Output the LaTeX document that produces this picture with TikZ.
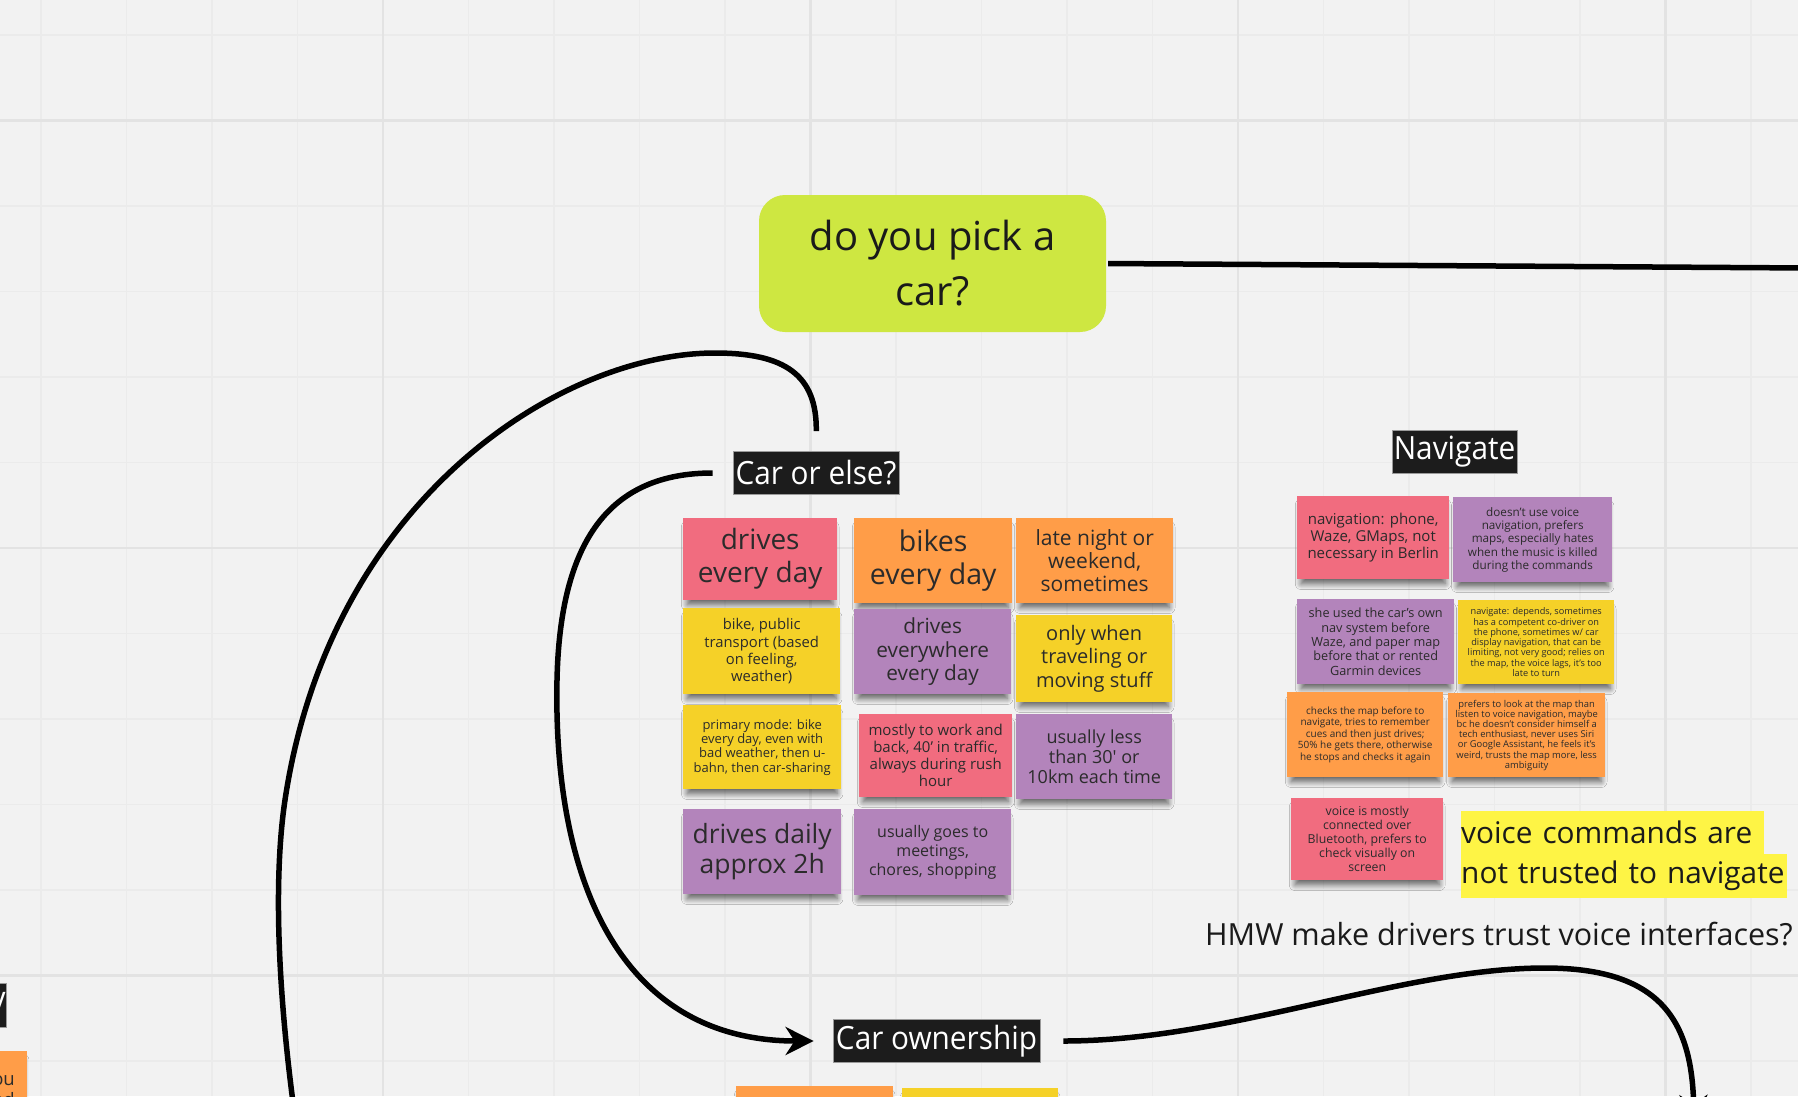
\documentclass[tikz,border=0pt]{standalone}
\usepackage{fontspec}
\setmainfont{Open Sans}[Ligatures=TeXOff]
\newfontfamily\tagfont{Open Sans}[FakeStretch=0.93]
\usepackage{xcolor}
\definecolor{canvasbg}{HTML}{F2F2F2}
\definecolor{gridminor}{HTML}{EBEBEB}
\definecolor{gridmajor}{HTML}{E3E3E3}
\definecolor{limebg}{HTML}{CEE741}
\definecolor{tagbg}{HTML}{1C1C1C}
\definecolor{tagbd}{HTML}{9A9A9A}
\definecolor{inkdark}{HTML}{1A1A1A}
\definecolor{stickyink}{HTML}{2B2B2B}
\definecolor{stpink}{HTML}{F16C7F}
\definecolor{storange}{HTML}{FF9D48}
\definecolor{styellow}{HTML}{F5D128}
\definecolor{stpurple}{HTML}{B384BB}
\definecolor{hlyellow}{HTML}{FEF445}
\usetikzlibrary{arrows.meta, positioning, shadows.blur}

\begin{document}
\begin{tikzpicture}[
        x=1pt, y=-1pt,
        font=\fontsize{16}{19}\selectfont,
        grid_minor/.style={draw=gridminor, line width=1.4pt},
        grid_major/.style={draw=gridmajor, line width=2.2pt},
        question_box/.style={
            rectangle,
            rounded corners=26pt,
            fill=limebg,
            text=inkdark,
            align=center,
            inner sep=0pt,
            minimum width=347pt,
            minimum height=137pt,
            font=\fontsize{40}{55}\selectfont
        },
        tag_node/.style={
            rectangle,
            fill=tagbg,
            draw=tagbd,
            line width=0.8pt,
            text=white,
            inner xsep=1pt,
            inner ysep=0pt,
            minimum height=43pt,
            font=\tagfont\fontsize{32}{36}\selectfont
        },
        sticky/.style={
            rectangle,
            anchor=north west,
            align=center,
            inner sep=0pt,
            text=stickyink,
            blur shadow={shadow xshift=0pt, shadow yshift=-7pt, shadow scale=0.95,
                shadow opacity=60, shadow blur radius=6pt, shadow blur steps=12}
        },
        hl_line/.style={
            rectangle,
            anchor=north west,
            fill=hlyellow,
            inner sep=0pt,
            align=left,
            text=inkdark,
            font=\fontsize{29.8}{36}\selectfont
        },
        conn/.style={draw=black, line width=5.5pt},
        arrow/.style={conn, -{Stealth[length=28pt, width=28pt, inset=9pt]}}
    ]

    \useasboundingbox (0,0) rectangle (1798,1096);
    \clip (0,0) rectangle (1798,1096);

    % Board grid
    \fill[canvasbg] (0,0) rectangle (1798,1096);
    \foreach \gi in {0,...,20} \draw[grid_minor] ({41+85.5*\gi},0) -- ({41+85.5*\gi},1096);
    \foreach \gj in {0,...,12} \draw[grid_minor] (0,{35+85.5*\gj}) -- (1798,{35+85.5*\gj});
    \foreach \gi in {0,...,3} \draw[grid_major] ({383+427.5*\gi},0) -- ({383+427.5*\gi},1096);
    \foreach \gj in {0,...,2} \draw[grid_major] (0,{120.5+427.5*\gj}) -- (1798,{120.5+427.5*\gj});

    % Question (top)
    \node[question_box] (do_car) at (932.5,263.5) {do you pick a\\car?};

    % Section labels
    \node[tag_node, minimum width=166pt] (car_else) at (816,473) {Car or else?};
    \node[tag_node, minimum width=125pt] (navigate) at (1454.5,452) {Navigate};
    \node[tag_node, minimum width=207pt] (car_own) at (936.5,1041) {Car ownership};

    % Car or else? stickies
    \node[sticky, fill=stpink, minimum width=154pt, minimum height=82pt, font=\fontsize{28}{33}\selectfont] (st_drives) at (683,518) {drives\\every day};
    \node[sticky, fill=storange, minimum width=158pt, minimum height=85pt, font=\fontsize{28.5}{33}\selectfont] (st_bikes) at (854,518) {bikes\\every day};
    \node[sticky, fill=storange, minimum width=157pt, minimum height=85pt, font=\fontsize{21}{23.3}\selectfont] (st_late) at (1016,518) {late night or\\weekend,\\sometimes};

    \node[sticky, fill=styellow, minimum width=157pt, minimum height=86pt, font=\fontsize{14.8}{17.3}\selectfont] (st_bikepub) at (683,608) {bike, public\\transport (based\\on feeling,\\weather)};
    \node[sticky, fill=stpurple, minimum width=157pt, minimum height=85pt, font=\fontsize{20.8}{23.3}\selectfont] (st_everywhere) at (854,609) {drives\\everywhere\\every day};
    \node[sticky, fill=styellow, minimum width=156pt, minimum height=87pt, font=\fontsize{20}{23.3}\selectfont] (st_travel) at (1016,615) {only when\\traveling or\\moving stuff};

    \node[sticky, fill=styellow, minimum width=158pt, minimum height=84pt, font=\fontsize{13}{14.3}\selectfont] (st_primary) at (683,705) {primary mode: bike\\every day, even with\\bad weather, then u-\\bahn, then car-sharing};
    \node[sticky, fill=stpink, minimum width=153pt, minimum height=83pt, font=\fontsize{15}{17}\selectfont] (st_work) at (859,714) {mostly to work and\\back, 40’ in traffic,\\always during rush\\hour};
    \node[sticky, fill=stpurple, minimum width=156pt, minimum height=85pt, font=\fontsize{18}{20.3}\selectfont] (st_lessthan) at (1016,714) {usually less\\than 30' or\\10km each time};

    \node[sticky, fill=stpurple, minimum width=158pt, minimum height=85pt, font=\fontsize{26.5}{30}\selectfont] (st_approx) at (683,809) {drives daily\\approx 2h};
    \node[sticky, fill=stpurple, minimum width=157pt, minimum height=86pt, font=\fontsize{16}{19.3}\selectfont] (st_meetings) at (854,809) {usually goes to\\meetings,\\chores, shopping};

    % Navigate stickies
    \node[sticky, fill=stpink, minimum width=152pt, minimum height=83pt, font=\fontsize{15}{16.7}\selectfont] (st_navphone) at (1297,496) {navigation: phone,\\Waze, GMaps, not\\necessary in Berlin};
    \node[sticky, fill=stpurple, minimum width=159pt, minimum height=85pt, font=\fontsize{11.7}{13.3}\selectfont] (st_novoice) at (1453,497) {doesn’t use voice\\navigation, prefers\\maps, especially hates\\when the music is killed\\during the commands};

    \node[sticky, fill=stpurple, minimum width=157pt, minimum height=85pt, font=\fontsize{12.7}{14.3}\selectfont] (st_ownnav) at (1297,599) {she used the car’s own\\nav system before\\Waze, and paper map\\before that or rented\\Garmin devices};
    \node[sticky, fill=styellow, minimum width=156pt, minimum height=84pt, font=\fontsize{9.2}{10.3}\selectfont] (st_depends) at (1458,600) {navigate: depends, sometimes\\has a competent co-driver on\\the phone, sometimes w/ car\\display navigation, that can be\\limiting, not very good; relies on\\the map, the voice lags, it’s too\\late to turn};

    \node[sticky, fill=storange, minimum width=156pt, minimum height=85pt, font=\fontsize{10}{11.4}\selectfont] (st_checks) at (1287,692) {checks the map before to\\navigate, tries to remember\\cues and then just drives;\\50\% he gets there, otherwise\\he stops and checks it again};
    \node[sticky, fill=storange, minimum width=157pt, minimum height=84pt, font=\fontsize{9.4}{10.2}\selectfont] (st_prefers) at (1448,693) {prefers to look at the map than\\listen to voice navigation, maybe\\bc he doesn’t consider himself a\\tech enthusiast, never uses Siri\\or Google Assistant, he feels it’s\\weird, trusts the map more, less\\ambiguity};

    \node[sticky, fill=stpink, minimum width=152pt, minimum height=82pt, font=\fontsize{12.3}{14}\selectfont] (st_bluetooth) at (1291,798) {voice is mostly\\connected over\\Bluetooth, prefers to\\check visually on\\screen};

    % Insight + HMW
    \node[hl_line, text width=303pt, minimum height=43pt] (insight_a) at (1461,811) {\mbox{voice commands are}};
    \node[hl_line, text width=326pt, minimum height=44pt] (insight_b) at (1461,854) {\mbox{not trusted to navigate}};
    \node[anchor=base east, inner sep=0pt, text=inkdark, font=\fontsize{30.5}{36}\selectfont] (hmw) at (1793,945) {HMW make drivers trust voice interfaces?};

    % Cut off at the board edges
    \node[tag_node, anchor=east, minimum height=44pt] (tag_left) at (7,1005) {y};
    \node[sticky, fill=storange, minimum width=157pt, minimum height=85pt] (st_left) at (-130,1051) {};
    \node[anchor=east, align=right, inner sep=0pt, text=stickyink, font=\fontsize{18.5}{21}\selectfont] (st_left_txt) at (15,1091) {ou\\ed};
    \node[sticky, fill=storange, minimum width=157pt, minimum height=85pt] (st_bottom_a) at (736,1086) {};
    \node[sticky, fill=styellow, minimum width=156pt, minimum height=85pt] (st_bottom_b) at (902,1088) {};

    \coordinate (pick_exit) at (1810,268);
    \coordinate (else_exit) at (294,1110);
    \coordinate (own_exit) at (1694,1123);

    % Connectors
    \draw[conn, shorten <=2pt] (do_car.east) -- (pick_exit);
    \draw[conn, shorten <=20pt] (car_else.north) .. controls (817,375) and (785,353) .. (715,353)
        .. controls (560,353) and (330,500) .. (285,800)
        .. controls (276,860) and (274,960) .. (else_exit);
    \draw[arrow, shorten <=20pt, shorten >=19pt] (car_else.west) .. controls (610,473) and (560,540) .. (557,680)
        .. controls (553,880) and (620,1041) .. (car_own.west);
    \draw[arrow, shorten <=23pt] (car_own.east) .. controls (1230,1041) and (1400,968) .. (1545,968)
        .. controls (1660,968) and (1692,1020) .. (own_exit);

\end{tikzpicture}
\end{document}
